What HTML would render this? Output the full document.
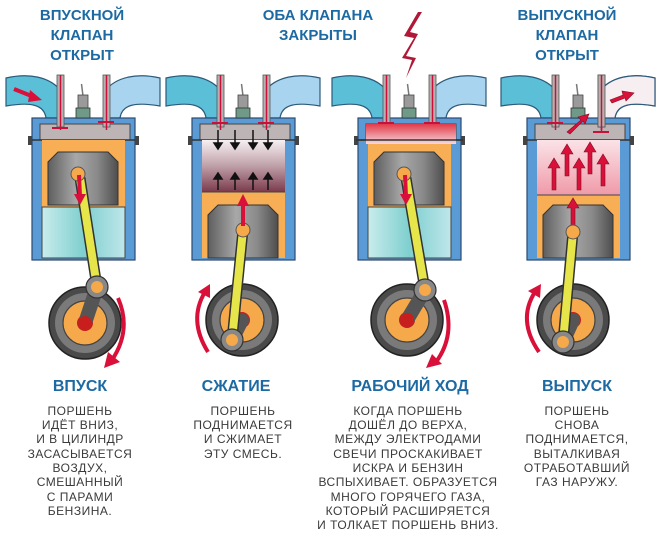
<!DOCTYPE html>
<html><head><meta charset="utf-8"><style>
html,body{margin:0;padding:0;background:#fff;}
svg{display:block;}
.t{font-family:"Liberation Sans","DejaVu Sans",sans-serif;font-weight:bold;fill:#1d6aa3;text-anchor:middle;}
.d{font-family:"Liberation Sans","DejaVu Sans",sans-serif;fill:#3a3a3a;text-anchor:middle;font-size:12px;letter-spacing:0.5px;}
</style></head><body>
<svg width="660" height="539" viewBox="0 0 660 539" xmlns="http://www.w3.org/2000/svg">
<defs>
<linearGradient id="pist" x1="0" x2="1" y1="0" y2="0"><stop offset="0" stop-color="#5e5e5e"/><stop offset="0.4" stop-color="#a8a8a8"/><stop offset="0.7" stop-color="#8a8a8a"/><stop offset="1" stop-color="#4e4e4e"/></linearGradient>
<linearGradient id="cyan" x1="0" x2="1"><stop offset="0" stop-color="#c9ecec"/><stop offset="0.5" stop-color="#7fcfcf"/><stop offset="1" stop-color="#bfe6ea"/></linearGradient>
<linearGradient id="comp" x1="0" x2="0" y1="0" y2="1"><stop offset="0" stop-color="#f6f0f2"/><stop offset="0.5" stop-color="#bfa0a8"/><stop offset="1" stop-color="#7a3a4c"/></linearGradient>
<linearGradient id="pink" x1="0" x2="0" y1="0" y2="1"><stop offset="0" stop-color="#fbe3e8"/><stop offset="1" stop-color="#ef9aa8"/></linearGradient>
<linearGradient id="fire" x1="0" x2="0" y1="0" y2="1"><stop offset="0" stop-color="#e23a4a"/><stop offset="1" stop-color="#f6d8dc"/></linearGradient>
<g id="top">
  <path d="M6,78 C28,73 50,76 62,92 L62,118 L46,118 C44,104 30,102 6,106 Z" fill="#5cbfd8" stroke="#2c5a7a" stroke-width="1.2"/>
  <path d="M160,78 C138,73 116,76 104,92 L104,118 L120,118 C122,104 136,102 160,106 Z" fill="#a9d4ef" stroke="#2c5a7a" stroke-width="1.2"/>
  <rect x="32" y="118" width="103" height="142" fill="#5b9bd5" stroke="#2a4a70" stroke-width="1.2"/>
  <rect x="40" y="124" width="90" height="16" fill="#bdb5b5" stroke="#444" stroke-width="1"/>
  <line x1="30" y1="140" x2="137" y2="140" stroke="#333" stroke-width="1.5"/>
  <rect x="28" y="136" width="4" height="9" fill="#444"/><rect x="135" y="136" width="4" height="9" fill="#444"/>
  <rect x="57" y="75" width="7" height="52" fill="#b8b0b0" stroke="#555" stroke-width="0.8"/>
  <line x1="60.5" y1="75" x2="60.5" y2="130" stroke="#c8103a" stroke-width="1.5"/>
  <rect x="103" y="75" width="7" height="52" fill="#b8b0b0" stroke="#555" stroke-width="0.8"/>
  <line x1="106.5" y1="75" x2="106.5" y2="130" stroke="#c8103a" stroke-width="1.5"/>
  <line x1="81.5" y1="84" x2="83" y2="96" stroke="#777" stroke-width="1.5"/>
  <rect x="78" y="95" width="10" height="14" fill="#9a9a9a" stroke="#444" stroke-width="0.8"/>
  <rect x="76" y="108" width="14" height="10" fill="#6f9a88" stroke="#333" stroke-width="0.8"/>
</g>
<g id="wheel">
  <circle r="36" fill="#4a4a4a" stroke="#222" stroke-width="1.5"/>
  <circle r="30" fill="#7a7a7a"/>
  <circle r="22" fill="#f5a94a" stroke="#444" stroke-width="1.2"/>
  <circle r="8" fill="#c81e1e"/>
</g>
</defs>

<text class="t" font-size="15" x="82" y="20">ВПУСКНОЙ</text>
<text class="t" font-size="15" x="82" y="40">КЛАПАН</text>
<text class="t" font-size="15" x="82" y="60">ОТКРЫТ</text>
<text class="t" font-size="15" x="318" y="20">ОБА КЛАПАНА</text>
<text class="t" font-size="15" x="318" y="40">ЗАКРЫТЫ</text>
<text class="t" font-size="15" x="567" y="20">ВЫПУСКНОЙ</text>
<text class="t" font-size="15" x="567" y="40">КЛАПАН</text>
<text class="t" font-size="15" x="567" y="60">ОТКРЫТ</text>

<g>
  <use href="#top"/>
  <rect x="42" y="140" width="83" height="67" fill="#f7ae55"/>
  <path d="M48,205 L48,162 L58,152 L108,152 L118,162 L118,205 Z" fill="url(#pist)" stroke="#333" stroke-width="1"/>
  <rect x="42" y="207" width="83" height="51" fill="url(#cyan)" stroke="#444" stroke-width="1"/>
  <line x1="52" y1="128" x2="68" y2="128" stroke="#c8103a" stroke-width="2"/>
  <line x1="98" y1="122" x2="114" y2="122" stroke="#c8103a" stroke-width="2"/>
  <path d="M14,89 L34,97" stroke="#d8103a" stroke-width="4"/><polygon points="42,100 30,90 28,102" fill="#d8103a"/>
  <use href="#wheel" x="85" y="323"/>
  <line x1="85" y1="323" x2="97" y2="287" stroke="#555" stroke-width="14" stroke-linecap="round"/>
  <circle cx="85" cy="323" r="7" fill="#c81e1e"/>
  <line x1="80" y1="178" x2="97" y2="287" stroke="#333" stroke-width="11"/>
  <line x1="80" y1="178" x2="97" y2="287" stroke="#e6e64a" stroke-width="8"/>
  <circle cx="97" cy="287" r="11" fill="#888" stroke="#333" stroke-width="1.2"/><circle cx="97" cy="287" r="6" fill="#f5a94a"/>
  <circle cx="78" cy="174" r="7" fill="#f5a94a" stroke="#555"/>
  <line x1="79" y1="175" x2="80" y2="196" stroke="#d8103a" stroke-width="4"/><polygon points="74,194 86,194 80,205" fill="#d8103a"/>
  <path d="M118,298 Q132,330 112,360" stroke="#d8103a" stroke-width="4" fill="none"/><polygon points="104,368 108,352 120,362" fill="#d8103a"/>
</g>

<g transform="translate(160,0)">
  <use href="#top"/>
  <rect x="42" y="140" width="83" height="52" fill="url(#comp)"/>
  <rect x="42" y="192" width="83" height="66" fill="#f7ae55"/>
  <path d="M48,258 L48,215 L58,205 L108,205 L118,215 L118,258 Z" fill="url(#pist)" stroke="#333" stroke-width="1"/>
  <line x1="42" y1="192" x2="125" y2="192" stroke="#444"/>
  <line x1="52" y1="123" x2="68" y2="123" stroke="#c8103a" stroke-width="2"/>
  <line x1="98" y1="123" x2="114" y2="123" stroke="#c8103a" stroke-width="2"/>
  <g stroke="#111" stroke-width="1.5" fill="#111">
    <line x1="58" y1="130" x2="58" y2="144"/><polygon points="54,143 62,143 58,149"/>
    <line x1="75" y1="130" x2="75" y2="144"/><polygon points="71,143 79,143 75,149"/>
    <line x1="93" y1="130" x2="93" y2="144"/><polygon points="89,143 97,143 93,149"/>
    <line x1="108" y1="130" x2="108" y2="144"/><polygon points="104,143 112,143 108,149"/>
    <line x1="58" y1="190" x2="58" y2="178"/><polygon points="54,179 62,179 58,173"/>
    <line x1="75" y1="190" x2="75" y2="178"/><polygon points="71,179 79,179 75,173"/>
    <line x1="93" y1="190" x2="93" y2="178"/><polygon points="89,179 97,179 93,173"/>
    <line x1="108" y1="190" x2="108" y2="178"/><polygon points="104,179 112,179 108,173"/>
  </g>
  <use href="#wheel" x="82" y="320"/>
  <line x1="82" y1="320" x2="72" y2="340" stroke="#555" stroke-width="14" stroke-linecap="round"/>
  <line x1="83" y1="230" x2="72" y2="340" stroke="#333" stroke-width="11"/>
  <line x1="83" y1="230" x2="72" y2="340" stroke="#e6e64a" stroke-width="8"/>
  <circle cx="72" cy="340" r="11" fill="#888" stroke="#333" stroke-width="1.2"/><circle cx="72" cy="340" r="6" fill="#f5a94a"/>
  <circle cx="83" cy="230" r="7" fill="#f5a94a" stroke="#555"/>
  <line x1="83" y1="226" x2="83" y2="204" stroke="#d8103a" stroke-width="4"/><polygon points="77,206 89,206 83,194" fill="#d8103a"/>
  <path d="M48,352 Q28,320 45,292" stroke="#d8103a" stroke-width="4" fill="none"/><polygon points="50,284 38,292 50,298" fill="#d8103a"/>
</g>

<g transform="translate(326,0)">
  <use href="#top"/>
  <rect x="42" y="140" width="83" height="67" fill="#f7ae55"/>
  <rect x="40" y="124" width="90" height="20" fill="url(#fire)"/>
  <line x1="30" y1="140" x2="137" y2="140" stroke="#333" stroke-width="1.5"/>
  <path d="M48,205 L48,162 L58,152 L108,152 L118,162 L118,205 Z" fill="url(#pist)" stroke="#333" stroke-width="1"/>
  <rect x="42" y="207" width="83" height="51" fill="url(#cyan)" stroke="#444" stroke-width="1"/>
  <line x1="52" y1="123" x2="68" y2="123" stroke="#c8103a" stroke-width="2"/>
  <line x1="98" y1="123" x2="114" y2="123" stroke="#c8103a" stroke-width="2"/>
  <polygon points="92,12 78,36 88,38 76,58 86,60 80,78 90,58 80,56 92,34 84,32 96,12" fill="#b01838"/>
  <use href="#wheel" x="81" y="320"/>
  <line x1="81" y1="320" x2="99" y2="290" stroke="#555" stroke-width="14" stroke-linecap="round"/>
  <circle cx="81" cy="320" r="7" fill="#c81e1e"/>
  <line x1="80" y1="178" x2="99" y2="290" stroke="#333" stroke-width="11"/>
  <line x1="80" y1="178" x2="99" y2="290" stroke="#e6e64a" stroke-width="8"/>
  <circle cx="99" cy="290" r="11" fill="#888" stroke="#333" stroke-width="1.2"/><circle cx="99" cy="290" r="6" fill="#f5a94a"/>
  <circle cx="78" cy="174" r="7" fill="#f5a94a" stroke="#555"/>
  <line x1="79" y1="175" x2="80" y2="196" stroke="#d8103a" stroke-width="4"/><polygon points="74,194 86,194 80,205" fill="#d8103a"/>
  <path d="M118,300 Q130,335 110,362" stroke="#d8103a" stroke-width="4" fill="none"/><polygon points="100,368 106,354 116,364" fill="#d8103a"/>
</g>

<g transform="translate(495,0)">
  <use href="#top"/>
  <path d="M104,92 L104,118 L120,118 C122,104 136,102 160,106 L160,78 C138,73 116,76 104,92Z" fill="#f7eef2" stroke="#2c5a7a" stroke-width="1.2"/>
  <rect x="103" y="75" width="7" height="52" fill="#b8b0b0" stroke="#555" stroke-width="0.8"/>
  <line x1="106.5" y1="75" x2="106.5" y2="133" stroke="#c8103a" stroke-width="1.5"/>
  <rect x="42" y="140" width="83" height="55" fill="url(#pink)"/>
  <rect x="42" y="195" width="83" height="63" fill="#f7ae55"/>
  <path d="M48,258 L48,215 L58,205 L108,205 L118,215 L118,258 Z" fill="url(#pist)" stroke="#333" stroke-width="1"/>
  <line x1="42" y1="195" x2="125" y2="195" stroke="#444"/>
  <line x1="52" y1="123" x2="68" y2="123" stroke="#c8103a" stroke-width="2"/>
  <line x1="98" y1="132" x2="114" y2="132" stroke="#c8103a" stroke-width="2"/>
  <g fill="#d8103a" stroke="#8a0a22" stroke-width="0.6">
    <path d="M57,190 L57,168 L53,168 L59,158 L65,168 L61,168 L61,190Z"/>
    <path d="M70,176 L70,154 L66,154 L72,144 L78,154 L74,154 L74,176Z"/>
    <path d="M82,190 L82,168 L78,168 L84,158 L90,168 L86,168 L86,190Z"/>
    <path d="M93,174 L93,152 L89,152 L95,142 L101,152 L97,152 L97,174Z"/>
    <path d="M106,186 L106,164 L102,164 L108,154 L114,164 L110,164 L110,186Z"/>
    <path d="M72,132 L86,120 L83,117 L94,114 L90,124 L88,121 L75,134Z"/>
    <path d="M115,100 L128,95 L127,91 L139,93 L131,101 L130,98 L117,103Z"/>
    <path d="M76,230 L76,208 L72,208 L78,198 L84,208 L80,208 L80,230Z"/>
  </g>
  <use href="#wheel" x="78" y="320"/>
  <line x1="78" y1="320" x2="68" y2="342" stroke="#555" stroke-width="14" stroke-linecap="round"/>
  <line x1="78" y1="232" x2="68" y2="342" stroke="#333" stroke-width="11"/>
  <line x1="78" y1="232" x2="68" y2="342" stroke="#e6e64a" stroke-width="8"/>
  <circle cx="68" cy="342" r="11" fill="#888" stroke="#333" stroke-width="1.2"/><circle cx="68" cy="342" r="6" fill="#f5a94a"/>
  <circle cx="78" cy="232" r="7" fill="#f5a94a" stroke="#555"/>
  <path d="M44,352 Q22,320 40,292" stroke="#d8103a" stroke-width="4" fill="none"/><polygon points="46,284 33,291 45,298" fill="#d8103a"/>
</g>

<text class="t" font-size="16" x="80" y="391">ВПУСК</text>
<text class="t" font-size="16" x="236" y="391">СЖАТИЕ</text>
<text class="t" font-size="16" x="410" y="391">РАБОЧИЙ ХОД</text>
<text class="t" font-size="16" x="577" y="391">ВЫПУСК</text>

<g class="d">
<text x="80" y="415">ПОРШЕНЬ</text>
<text x="80" y="429">ИДЁТ ВНИЗ,</text>
<text x="80" y="443">И В ЦИЛИНДР</text>
<text x="80" y="458">ЗАСАСЫВАЕТСЯ</text>
<text x="80" y="472">ВОЗДУХ,</text>
<text x="80" y="486">СМЕШАННЫЙ</text>
<text x="80" y="501">С ПАРАМИ</text>
<text x="80" y="515">БЕНЗИНА.</text>

<text x="243" y="415">ПОРШЕНЬ</text>
<text x="243" y="429">ПОДНИМАЕТСЯ</text>
<text x="243" y="443">И СЖИМАЕТ</text>
<text x="243" y="458">ЭТУ СМЕСЬ.</text>

<text x="408" y="415">КОГДА ПОРШЕНЬ</text>
<text x="408" y="429">ДОШЁЛ ДО ВЕРХА,</text>
<text x="408" y="443">МЕЖДУ ЭЛЕКТРОДАМИ</text>
<text x="408" y="458">СВЕЧИ ПРОСКАКИВАЕТ</text>
<text x="408" y="472">ИСКРА И БЕНЗИН</text>
<text x="408" y="486">ВСПЫХИВАЕТ. ОБРАЗУЕТСЯ</text>
<text x="408" y="501">МНОГО ГОРЯЧЕГО ГАЗА,</text>
<text x="408" y="515">КОТОРЫЙ РАСШИРЯЕТСЯ</text>
<text x="408" y="529">И ТОЛКАЕТ ПОРШЕНЬ ВНИЗ.</text>

<text x="577" y="415">ПОРШЕНЬ</text>
<text x="577" y="429">СНОВА</text>
<text x="577" y="443">ПОДНИМАЕТСЯ,</text>
<text x="577" y="458">ВЫТАЛКИВАЯ</text>
<text x="577" y="472">ОТРАБОТАВШИЙ</text>
<text x="577" y="486">ГАЗ НАРУЖУ.</text>
</g>
</svg>
</body></html>
